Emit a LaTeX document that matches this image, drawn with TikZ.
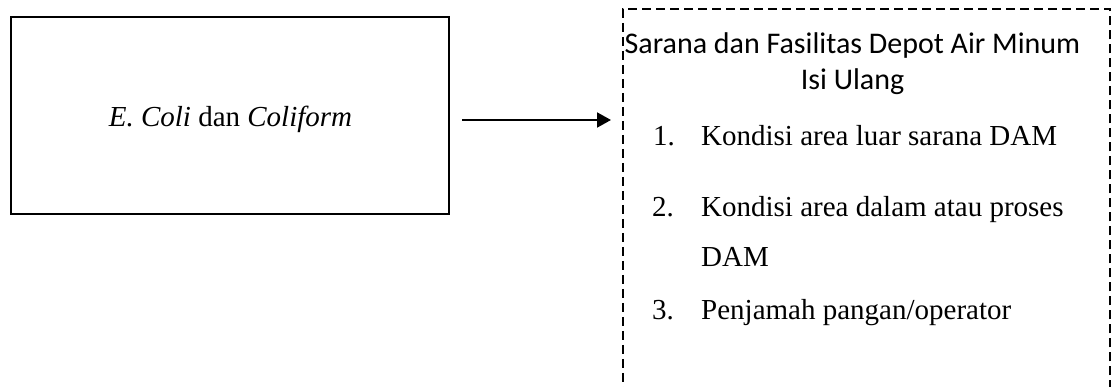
\documentclass[tikz,border=0pt]{standalone}
\usepackage{fontspec}
\setmainfont{Liberation Serif}
\newfontfamily\calfont{Carlito}
\usetikzlibrary{arrows.meta}
\begin{document}
\begin{tikzpicture}[x=1pt,y=-1pt,
  srcbox/.style={draw, line width=2pt, minimum width=438pt, minimum height=197pt, inner sep=0pt},
  dashbox/.style={draw, line width=2pt, dash pattern=on 9pt off 5pt, minimum width=487.5pt, minimum height=411pt, inner sep=0pt},
  serif/.style={font=\fontsize{29}{35}\selectfont, inner sep=0pt},
  title/.style={font=\calfont\fontsize{30}{36}\selectfont, inner sep=0pt, anchor=base},
  item/.style={serif, anchor=base west},
  conn/.style={line width=2pt, -{Triangle[length=14pt,width=15pt]}}
]
\useasboundingbox (0,0) rectangle (1112,387);
\node[srcbox] (src) at (230,115.5) {};
\node[serif, anchor=base] (srclabel) at (230.5,127) {\textit{E. Coli} dan \textit{Coliform}};
\node[dashbox] (tgt) at (866.25,214.5) {};
\node[title] (t1) at (852.5,54) {Sarana dan Fasilitas Depot Air Minum};
\node[title] (t2) at (852.5,90) {Isi Ulang};
\node[item] (n1) at (653,146) {1.};
\node[item] (i1) at (701,146) {Kondisi area luar sarana DAM};
\node[item] (n2) at (652,217) {2.};
\node[item] (i2) at (701,217) {Kondisi area dalam atau proses};
\node[item] (i2b) at (701,267) {DAM};
\node[item] (n3) at (652,320) {3.};
\node[item] (i3) at (701,320) {Penjamah pangan/operator};
\coordinate (a0) at (462,120);
\coordinate (a1) at (611,120);
\draw[conn] (a0) -- (a1);
\end{tikzpicture}
\end{document}
